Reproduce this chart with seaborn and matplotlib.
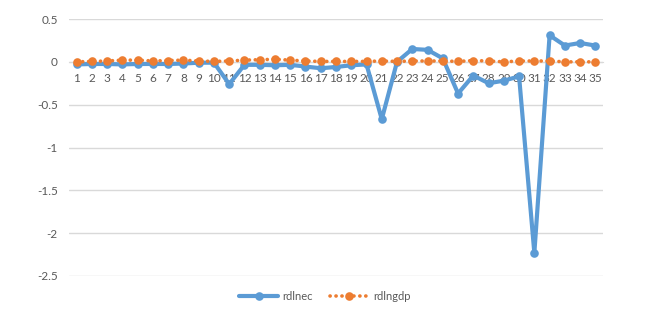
import matplotlib
matplotlib.use("Agg")
import matplotlib.pyplot as plt
import seaborn as sns
import pandas as pd

periods = list(range(1, 36))
rdlnec = [-0.03, -0.025, -0.025, -0.03, -0.025, -0.025, -0.025, -0.02, -0.01, -0.01,
          -0.26, -0.035, -0.035, -0.04, -0.035, -0.055, -0.075, -0.06, -0.04, -0.03,
          -0.67, 0.0, 0.15, 0.14, 0.04, -0.37, -0.16, -0.25, -0.22, -0.17,
          -2.23, 0.31, 0.19, 0.22, 0.19]
rdlngdp = [0.0, 0.005, 0.01, 0.02, 0.02, 0.01, 0.015, 0.02, 0.01, 0.005,
           0.01, 0.02, 0.025, 0.03, 0.02, 0.01, 0.005, 0.005, 0.005, 0.005,
           0.01, 0.005, 0.01, 0.01, 0.01, 0.005, 0.015, 0.01, 0.0, 0.01,
           0.01, 0.01, 0.0, 0.0, 0.0]
yticks = [0.5, 0, -0.5, -1, -1.5, -2, -2.5]

sns.set_style("white")
plt.rcParams['font.family'] = ['Lato', 'DejaVu Sans']
txt = '#595959'

df = pd.DataFrame({'x': periods, 'rdlnec': rdlnec, 'rdlngdp': rdlngdp})

fig = plt.figure(figsize=(6.59, 3.31), dpi=100)
ax = fig.add_axes([69/659, 1-276/331, 534/659, (276-19)/331])

sns.lineplot(data=df, x='x', y='rdlnec', ax=ax, color='#5b9bd5', linewidth=3,
             marker='o', markersize=6.2, markeredgewidth=0, label='rdlnec', zorder=3)
sns.lineplot(data=df, x='x', y='rdlngdp', ax=ax, color='#ed7d31', linewidth=2.6,
             linestyle=(0, (0.05, 1.6)), dash_capstyle='round',
             marker='o', markersize=6.2, markeredgewidth=0, label='rdlngdp', zorder=4)

ax.set_xlim(0.5, 35.5)
ax.set_ylim(-2.5, 0.5)
ax.set_yticks(yticks)
ax.set_yticklabels([str(v) for v in yticks])
ax.set_xticks(periods)
ax.set_xticklabels([str(p) for p in periods])
ax.yaxis.grid(True, color='#d9d9d9', linewidth=1)
ax.xaxis.grid(False)
for s in ['top', 'right', 'left']:
    ax.spines[s].set_visible(False)
ax.spines['bottom'].set_position(('data', 0))
ax.spines['bottom'].set_color('#d9d9d9')
ax.tick_params(axis='both', length=0, labelsize=8.5, labelcolor=txt)
ax.tick_params(axis='x', pad=8)
ax.tick_params(axis='y', pad=8)
ax.set_xlabel('')
ax.set_ylabel('')

leg = ax.legend(loc='center', bbox_to_anchor=(325/659, 1-296/331), bbox_transform=fig.transFigure,
                ncol=2, frameon=False, fontsize=8, handlelength=3.5, columnspacing=1.5,
                handletextpad=0.4)
for t in leg.get_texts():
    t.set_color(txt)

fig.savefig('out.png', dpi=100)
